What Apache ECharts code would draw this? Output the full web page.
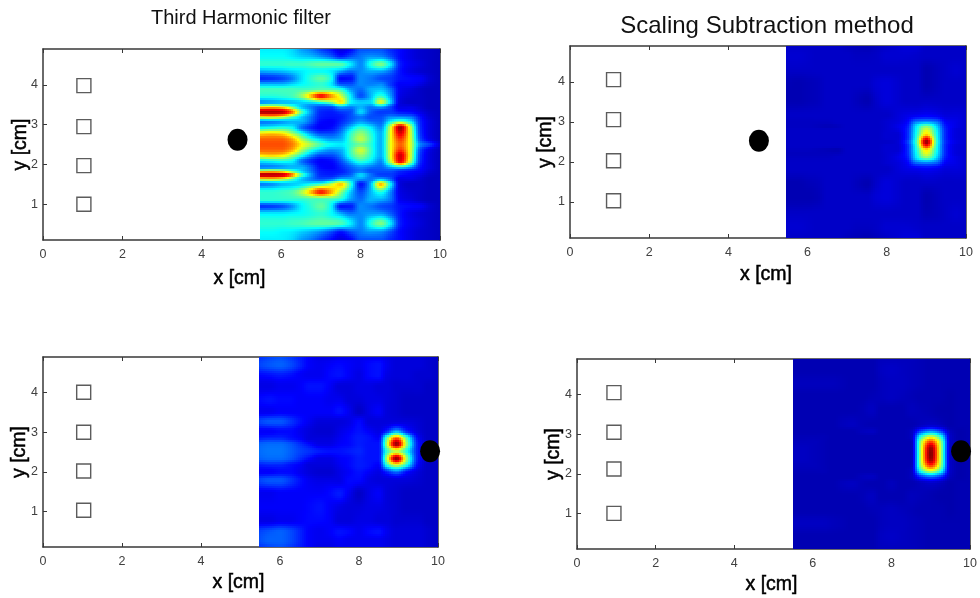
<!DOCTYPE html>
<html><head><meta charset="utf-8">
<style>html,body{margin:0;padding:0;background:#fff}#c{width:980px;height:598px}</style>
<script src="https://cdn.jsdelivr.net/npm/echarts@6/dist/echarts.min.js"></script>
</head><body><div id="c"></div>
<script>
const titles = ["Third Harmonic filter", "Scaling Subtraction method"];
const xLabel = "x [cm]", yLabel = "y [cm]";
const yTicks = [1, 2, 3, 4];
const p1Cols = [5.47,5.75,6,6.25,6.5,6.75,7,7.25,7.5,7.75,8,8.25,8.5,8.75,9,9.25,9.5,9.75,10];
const p2Cols = [5.45,5.75,6,6.25,6.5,6.75,7,7.25,7.5,7.75,8,8.25,8.5,8.75,9,9.25,9.5,9.75,10];
const p3Cols = [5.47,5.75,6,6.25,6.5,6.75,7,7.25,7.5,7.75,8,8.25,8.5,8.7,8.95,9.2,9.5,9.75,10];
const p4Cols = [5.5,5.75,6,6.25,6.5,6.75,7,7.25,7.5,7.75,8,8.25,8.5,8.75,9,9.25,9.5,9.75,10];

const p1Rows = [4.9,4.71,4.52,4.35,4.16,4.02,3.88,3.72,3.56,3.45,3.32,3.19,3.07,2.93,2.77,2.63,2.5,2.37,2.23,2.08,1.93,1.83,1.74,1.63,1.51,1.3,1.12,0.95,0.76,0.52,0.3,0.1];
const p1Values = [
[.36,.36,.36,.34,.28,.24,.18,.14,.09,.12,.2,.2,.2,.16,.13,.1,.08,.07,.06],
[.38,.38,.38,.36,.33,.31,.27,.22,.15,.2,.24,.27,.26,.2,.13,.1,.08,.07,.06],
[.42,.42,.42,.43,.43,.45,.47,.47,.46,.36,.26,.4,.5,.36,.15,.11,.09,.07,.06],
[.3,.31,.32,.34,.36,.38,.38,.36,.3,.24,.26,.3,.3,.24,.14,.1,.08,.07,.06],
[.16,.17,.19,.24,.34,.42,.47,.4,.13,.14,.26,.24,.2,.18,.14,.13,.12,.08,.06],
[.3,.3,.3,.33,.37,.4,.42,.36,.2,.2,.26,.25,.26,.18,.12,.12,.1,.07,.06],
[.44,.44,.44,.44,.44,.45,.46,.46,.42,.28,.23,.3,.32,.24,.11,.09,.07,.06,.06],
[.41,.41,.42,.44,.52,.7,.88,.74,.58,.36,.2,.3,.42,.28,.1,.08,.07,.06,.06],
[.26,.28,.3,.31,.33,.36,.42,.5,.66,.38,.33,.34,.6,.34,.09,.07,.07,.06,.06],
[.62,.64,.6,.48,.32,.25,.2,.2,.3,.26,.3,.25,.3,.2,.1,.1,.08,.06,.06],
[.96,.96,.95,.8,.48,.28,.16,.15,.18,.2,.34,.22,.18,.18,.14,.13,.1,.07,.06],
[.62,.64,.6,.48,.34,.24,.15,.14,.15,.2,.24,.2,.2,.26,.26,.24,.14,.08,.06],
[.24,.25,.27,.3,.3,.22,.13,.12,.16,.22,.28,.24,.22,.38,.5,.38,.16,.09,.06],
[.36,.38,.4,.38,.24,.16,.12,.13,.2,.32,.42,.36,.26,.58,.97,.58,.17,.09,.06],
[.66,.68,.66,.56,.42,.28,.2,.2,.26,.42,.52,.42,.3,.6,.9,.6,.18,.09,.06],
[.78,.78,.78,.72,.56,.42,.33,.28,.3,.44,.56,.44,.3,.6,.82,.6,.2,.1,.06],
[.8,.8,.8,.76,.64,.54,.44,.38,.36,.42,.48,.42,.3,.6,.78,.6,.26,.18,.08],
[.78,.78,.78,.72,.56,.42,.33,.28,.3,.44,.58,.44,.3,.6,.82,.6,.2,.1,.06],
[.66,.68,.66,.56,.42,.28,.2,.2,.26,.42,.52,.42,.3,.6,.92,.6,.18,.09,.06],
[.36,.38,.4,.38,.24,.16,.12,.13,.2,.32,.42,.36,.26,.56,.9,.56,.17,.09,.06],
[.24,.25,.27,.3,.3,.22,.13,.12,.16,.22,.27,.24,.22,.3,.36,.28,.14,.09,.06],
[.62,.64,.6,.48,.34,.24,.15,.14,.15,.2,.24,.2,.2,.2,.16,.14,.12,.08,.06],
[.96,.96,.95,.8,.48,.28,.16,.15,.18,.22,.34,.24,.18,.18,.14,.12,.1,.07,.06],
[.62,.64,.6,.48,.32,.25,.2,.22,.3,.3,.28,.24,.3,.22,.1,.1,.08,.06,.06],
[.24,.26,.3,.32,.34,.38,.42,.54,.68,.42,.14,.3,.7,.38,.09,.07,.07,.06,.06],
[.42,.42,.43,.45,.54,.7,.86,.72,.52,.32,.2,.3,.4,.26,.1,.08,.07,.06,.06],
[.42,.42,.42,.42,.42,.44,.44,.44,.4,.28,.23,.3,.3,.24,.11,.09,.07,.06,.06],
[.17,.18,.2,.26,.36,.42,.47,.38,.14,.15,.26,.24,.2,.18,.14,.13,.12,.08,.06],
[.36,.36,.36,.37,.38,.4,.42,.38,.3,.24,.26,.28,.28,.22,.14,.1,.08,.07,.06],
[.42,.42,.42,.43,.44,.46,.47,.47,.45,.36,.26,.4,.5,.36,.15,.11,.09,.07,.06],
[.38,.38,.37,.36,.33,.3,.26,.2,.14,.2,.24,.27,.26,.2,.13,.1,.08,.07,.06],
[.36,.36,.36,.34,.28,.24,.18,.13,.09,.12,.2,.2,.2,.16,.13,.1,.08,.07,.06]
];

const p2Rows = [4.9,4.67,4.3,3.96,3.55,3.17,3.0,2.89,2.79,2.69,2.6,2.5,2.4,2.31,2.21,2.11,2.0,1.83,1.45,1.12,0.7,0.37,0.1];
const p2Values = [
[.07,.07,.07,.07,.07,.07,.06,.055,.05,.06,.07,.08,.09,.09,.07,.07,.07,.07,.07],
[.08,.08,.075,.07,.07,.07,.07,.065,.065,.07,.08,.08,.08,.075,.07,.07,.07,.07,.07],
[.07,.07,.07,.07,.07,.07,.07,.07,.07,.07,.07,.07,.07,.07,.05,.06,.07,.08,.07],
[.055,.05,.055,.06,.07,.07,.07,.07,.07,.085,.09,.08,.07,.07,.05,.06,.07,.07,.07],
[.05,.05,.055,.06,.07,.07,.07,.06,.05,.075,.09,.08,.07,.07,.07,.07,.07,.07,.07],
[.07,.07,.07,.07,.07,.07,.07,.07,.07,.07,.07,.085,.1,.11,.12,.11,.09,.09,.08],
[.065,.065,.065,.065,.065,.07,.07,.07,.07,.07,.08,.09,.12,.25,.28,.24,.12,.1,.08],
[.065,.065,.065,.06,.055,.06,.07,.07,.07,.07,.08,.1,.14,.36,.5,.34,.14,.1,.08],
[.07,.07,.07,.07,.07,.07,.07,.07,.07,.07,.08,.09,.15,.38,.6,.38,.15,.09,.08],
[.07,.07,.07,.07,.07,.07,.07,.07,.07,.07,.08,.08,.15,.4,.66,.4,.15,.09,.08],
[.07,.07,.07,.07,.07,.07,.07,.07,.07,.07,.08,.08,.15,.42,.85,.42,.15,.09,.08],
[.07,.07,.07,.07,.07,.07,.07,.07,.07,.07,.07,.08,.17,.45,.98,.44,.16,.1,.08],
[.07,.07,.07,.07,.07,.07,.07,.07,.07,.07,.08,.08,.15,.42,.85,.42,.15,.09,.08],
[.065,.065,.065,.06,.055,.05,.07,.07,.07,.07,.08,.08,.15,.4,.66,.4,.15,.09,.08],
[.06,.06,.06,.06,.06,.06,.07,.07,.07,.07,.08,.09,.15,.38,.6,.38,.15,.09,.08],
[.065,.065,.065,.065,.065,.07,.07,.07,.07,.07,.08,.1,.14,.36,.5,.34,.14,.1,.08],
[.07,.07,.07,.07,.07,.07,.07,.07,.07,.07,.08,.09,.12,.25,.28,.24,.12,.1,.08],
[.07,.07,.07,.07,.07,.07,.07,.07,.07,.07,.07,.085,.1,.11,.12,.11,.09,.09,.08],
[.05,.05,.055,.06,.07,.07,.07,.06,.05,.075,.09,.08,.07,.07,.07,.07,.07,.07,.07],
[.05,.05,.05,.055,.07,.07,.07,.07,.07,.085,.09,.08,.07,.07,.05,.06,.07,.07,.07],
[.07,.07,.07,.07,.07,.07,.07,.07,.07,.07,.07,.07,.07,.07,.055,.06,.07,.08,.07],
[.08,.08,.075,.07,.07,.07,.07,.065,.065,.07,.08,.08,.08,.075,.07,.07,.07,.07,.07],
[.07,.07,.07,.07,.07,.07,.06,.055,.05,.06,.07,.08,.09,.09,.07,.07,.07,.07,.07]
];

const p3Rows = [4.9,4.7,4.45,4.16,3.82,3.52,3.27,3.02,2.85,2.7,2.52,2.34,2.17,2.0,1.79,1.45,1.11,0.77,0.48,0.27,0.1];
const p3Values = [
[.17,.19,.2,.18,.15,.12,.1,.1,.11,.11,.11,.11,.11,.1,.09,.09,.09,.08,.07],
[.19,.21,.22,.2,.16,.12,.11,.12,.13,.12,.11,.13,.14,.11,.09,.09,.09,.08,.07],
[.13,.14,.15,.14,.12,.11,.11,.13,.14,.12,.1,.13,.14,.1,.09,.09,.08,.08,.07],
[.1,.1,.11,.11,.12,.14,.14,.12,.09,.09,.1,.1,.09,.09,.08,.08,.08,.07,.07],
[.13,.14,.13,.13,.12,.12,.12,.11,.11,.09,.09,.1,.1,.09,.08,.07,.07,.07,.07],
[.11,.11,.12,.12,.12,.12,.12,.12,.14,.11,.07,.1,.12,.09,.08,.07,.07,.07,.07],
[.19,.21,.21,.18,.14,.11,.09,.09,.09,.1,.13,.09,.09,.09,.09,.09,.08,.07,.07],
[.12,.12,.13,.13,.11,.09,.08,.08,.1,.12,.14,.12,.1,.16,.3,.16,.09,.07,.07],
[.15,.16,.16,.14,.12,.09,.09,.09,.11,.13,.15,.14,.12,.46,.78,.46,.12,.07,.07],
[.22,.23,.23,.21,.17,.13,.1,.1,.12,.13,.15,.14,.14,.54,.98,.54,.14,.07,.07],
[.23,.24,.24,.22,.19,.17,.15,.14,.14,.15,.16,.14,.14,.42,.56,.4,.14,.08,.07],
[.22,.23,.23,.21,.17,.13,.1,.1,.12,.13,.15,.14,.14,.54,.98,.54,.14,.07,.07],
[.15,.16,.16,.14,.12,.09,.09,.09,.11,.13,.15,.14,.12,.4,.58,.4,.12,.07,.07],
[.12,.12,.13,.13,.11,.09,.08,.08,.1,.12,.14,.12,.1,.16,.24,.14,.09,.07,.07],
[.19,.21,.21,.18,.14,.11,.1,.1,.1,.13,.13,.1,.09,.09,.09,.09,.08,.07,.07],
[.11,.11,.12,.12,.12,.12,.12,.13,.15,.11,.07,.1,.12,.09,.08,.07,.07,.07,.07],
[.12,.12,.12,.12,.12,.13,.14,.12,.1,.09,.09,.1,.1,.09,.08,.07,.07,.07,.07],
[.1,.1,.11,.11,.12,.13,.13,.12,.09,.09,.1,.1,.09,.09,.08,.08,.08,.07,.07],
[.19,.21,.22,.2,.16,.12,.11,.12,.14,.13,.11,.13,.14,.11,.09,.09,.09,.08,.07],
[.2,.22,.22,.2,.16,.12,.11,.11,.12,.11,.11,.11,.11,.1,.09,.09,.09,.08,.07],
[.17,.19,.2,.18,.15,.12,.1,.1,.11,.11,.11,.11,.11,.1,.09,.09,.09,.08,.07]
];

const p4Rows = [4.9,4.63,4.29,3.95,3.62,3.24,3.07,2.93,2.78,2.64,2.5,2.37,2.23,2.08,1.93,1.76,1.42,1.08,0.75,0.41,0.1];
const p4Values = [
[.05,.05,.05,.05,.05,.05,.05,.05,.05,.06,.06,.06,.06,.055,.05,.05,.05,.05,.05],
[.05,.05,.05,.05,.05,.05,.05,.05,.05,.065,.07,.065,.06,.055,.05,.05,.05,.05,.05],
[.06,.06,.06,.06,.06,.055,.05,.05,.05,.06,.065,.065,.06,.055,.05,.05,.05,.05,.05],
[.05,.05,.05,.05,.05,.05,.05,.05,.055,.06,.065,.06,.055,.05,.05,.05,.045,.05,.05],
[.05,.05,.05,.05,.05,.05,.05,.055,.065,.05,.05,.05,.06,.055,.05,.045,.045,.05,.05],
[.05,.05,.05,.05,.05,.06,.065,.055,.05,.05,.05,.05,.05,.06,.07,.06,.045,.05,.05],
[.05,.05,.05,.05,.05,.05,.05,.06,.065,.05,.05,.05,.06,.2,.28,.2,.06,.045,.05],
[.055,.055,.055,.055,.05,.05,.05,.05,.05,.05,.05,.05,.06,.42,.6,.42,.07,.045,.05],
[.06,.06,.06,.055,.05,.05,.05,.05,.05,.05,.05,.05,.05,.54,.85,.54,.07,.045,.05],
[.065,.065,.06,.055,.05,.05,.05,.05,.05,.05,.05,.05,.05,.56,.98,.56,.07,.045,.05],
[.065,.065,.06,.055,.05,.05,.05,.05,.05,.05,.05,.05,.05,.56,1,.56,.07,.045,.05],
[.065,.065,.06,.055,.05,.05,.05,.05,.05,.05,.05,.05,.05,.56,.98,.56,.07,.045,.05],
[.06,.06,.06,.055,.05,.05,.05,.05,.05,.05,.05,.05,.05,.54,.85,.54,.07,.045,.05],
[.055,.055,.055,.055,.05,.05,.05,.05,.05,.05,.05,.05,.06,.42,.6,.42,.07,.045,.05],
[.05,.05,.05,.05,.05,.05,.05,.06,.065,.05,.05,.05,.06,.18,.24,.18,.06,.045,.05],
[.05,.05,.05,.05,.05,.06,.065,.055,.05,.05,.06,.05,.05,.06,.07,.06,.045,.05,.05],
[.05,.05,.05,.05,.05,.05,.05,.055,.065,.05,.05,.05,.06,.055,.05,.045,.045,.05,.05],
[.05,.05,.05,.05,.05,.05,.05,.05,.055,.06,.065,.06,.055,.05,.05,.05,.045,.05,.05],
[.065,.065,.065,.065,.06,.055,.05,.05,.05,.06,.065,.065,.06,.055,.05,.05,.05,.05,.05],
[.05,.05,.05,.05,.05,.05,.05,.05,.05,.065,.07,.065,.06,.055,.05,.05,.05,.05,.05],
[.05,.05,.05,.05,.05,.05,.05,.05,.05,.06,.06,.06,.06,.055,.05,.05,.05,.05,.05]
];

const p1Squares = [[1.03,3.98],[1.03,2.95],[1.03,1.97],[1.03,1.0]];
const p2Squares = [[1.1,4.06],[1.1,3.06],[1.1,2.03],[1.1,1.03]];
const p3Squares = [[1.03,4.01],[1.03,3.0],[1.03,2.02],[1.03,1.03]];
const p4Squares = [[0.94,4.05],[0.94,3.05],[0.94,2.12],[0.94,1.0]];
const p1Dot = [[4.9,2.62]], p2Dot = [[4.77,2.53]], p3Dot = [[9.8,2.52]], p4Dot = [[9.77,2.57]];

const panels = [
 {box:[43,49,397,191], cols:p1Cols, rows:p1Rows, vals:p1Values, sq:p1Squares, dot:p1Dot, xGap:29, yGap:12},
 {box:[570,46,396,192], cols:p2Cols, rows:p2Rows, vals:p2Values, sq:p2Squares, dot:p2Dot, xGap:27, yGap:14},
 {box:[43,357,395,190], cols:p3Cols, rows:p3Rows, vals:p3Values, sq:p3Squares, dot:p3Dot, xGap:26, yGap:13},
 {box:[577,359,394,190], cols:p4Cols, rows:p4Rows, vals:p4Values, sq:p4Squares, dot:p4Dot, xGap:26, yGap:13}
];

function jet(v){
  const c = a => Math.round(255*Math.max(0,Math.min(1,1.5-Math.abs(4*v-a))));
  return 'rgb('+c(3)+','+c(2)+','+c(1)+')';
}
function herm(xs,vs,i,t){
  const n=xs.length, h=xs[i+1]-xs[i];
  const s=k=>{
    if(k===0) return (vs[1]-vs[0])/(xs[1]-xs[0]);
    if(k===n-1) return (vs[n-1]-vs[n-2])/(xs[n-1]-xs[n-2]);
    const h0=xs[k]-xs[k-1], h1=xs[k+1]-xs[k], d0=(vs[k]-vs[k-1])/h0, d1=(vs[k+1]-vs[k])/h1;
    if(d0*d1<=0) return 0;
    const w1=2*h1+h0, w2=h1+2*h0;
    return (w1+w2)/(w1/d0+w2/d1);
  };
  const t2=t*t, t3=t2*t;
  return (2*t3-3*t2+1)*vs[i]+(t3-2*t2+t)*h*s(i)+(-2*t3+3*t2)*vs[i+1]+(t3-t2)*h*s(i+1);
}
function shade(P,cx,cy,tx,ty){
  const col=[];
  for(let k=0;k<P.cols.length;k++){
    if(k<cx-1||k>cx+2){col.push(0);continue;}
    col.push(herm(P.rows,P.vals.map(r=>r[k]),cy,ty));
  }
  const a=Math.max(cx-1,0), b=Math.min(cx+2,P.cols.length-1);
  const v=herm(P.cols.slice(a,b+1),col.slice(a,b+1),cx-a,tx);
  return Math.max(0,Math.min(1,v));
}
const grid=[],xAxis=[],yAxis=[],series=[];
const font='"Liberation Sans",Arial,sans-serif';
const lineCol='#383838', tickTxt='#404040';
const nameStyle={fontFamily:font,fontSize:19.5,color:'#000',textBorderColor:'#000',textBorderWidth:0.5};
panels.forEach((P,idx)=>{
  const [l,t,w,h]=P.box;
  grid.push({left:l,top:t,width:w,height:h,show:false});
  const ax={axisLine:{show:true,onZero:false,lineStyle:{color:lineCol,width:1.5}},splitLine:{show:false}};
  const xa={type:'value',gridIndex:idx,min:0,max:10,interval:2,...ax};
  xAxis.push({...xa,position:'bottom',name:xLabel,nameLocation:'middle',nameGap:P.xGap,
    nameTextStyle:{...nameStyle,padding:[0,4,0,0]},
    axisTick:{inside:true,length:4,lineStyle:{color:lineCol}},
    axisLabel:{fontFamily:font,fontSize:12.5,color:tickTxt,margin:8,showMinLabel:true,showMaxLabel:true}});
  xAxis.push({...xa,position:'top',axisTick:{inside:true,length:4,lineStyle:{color:lineCol}},axisLabel:{show:false}});
  const ya={type:'value',gridIndex:idx,min:0.1,max:4.9,...ax};
  yAxis.push({...ya,position:'left',name:yLabel,nameLocation:'middle',nameGap:P.yGap,nameMoveOverlap:false,
    nameTextStyle:nameStyle,
    axisTick:{inside:true,length:4,customValues:yTicks,lineStyle:{color:lineCol}},
    axisLabel:{fontFamily:font,fontSize:12.5,color:tickTxt,margin:5,customValues:yTicks}});
  yAxis.push({...ya,position:'right',axisTick:{inside:true,length:4,customValues:yTicks,lineStyle:{color:lineCol}},axisLabel:{show:false}});
  const xi=idx*2, yi=idx*2;
  const cells=[];
  for(let j=0;j<P.rows.length-1;j++) for(let i=0;i<P.cols.length-1;i++) cells.push([P.cols[i],P.rows[j],i,j]);
  series.push({type:'custom',xAxisIndex:xi,yAxisIndex:yi,z:1,silent:true,animation:false,progressive:0,
    clip:true,data:cells,
    encode:{x:0,y:1},
    renderItem:(params,api)=>{
      const i=api.value(2), j=api.value(3);
      const a=api.coord([P.cols[i],P.rows[j]]), b=api.coord([P.cols[i+1],P.rows[j+1]]);
      const x0=Math.round(a[0]), x1=Math.round(b[0]), y0=Math.round(a[1]), y1=Math.round(b[1]);
      const children=[];
      for(let py=y0;py<y1;py+=2) for(let px=x0;px<x1;px+=2){
        const pw=Math.min(2,x1-px), ph=Math.min(2,y1-py);
        const v=shade(P,i,j,(px+pw/2-a[0])/(b[0]-a[0]),(py+ph/2-a[1])/(b[1]-a[1]));
        children.push({type:'rect',shape:{x:px,y:py,width:pw,height:ph},style:{fill:jet(v)}});
      }
      return {type:'group',children};
    }});
  series.push({type:'scatter',xAxisIndex:xi,yAxisIndex:yi,z:3,silent:true,animation:false,data:P.sq,symbol:'rect',symbolSize:14,
    itemStyle:{color:'rgba(255,255,255,0)',borderColor:'#333',borderWidth:1.4}});
  series.push({type:'scatter',xAxisIndex:xi,yAxisIndex:yi,z:4,silent:true,animation:false,data:P.dot,symbol:'circle',symbolSize:[20,22],
    itemStyle:{color:'#000',opacity:1}});
});
const chart=echarts.init(document.getElementById('c'),null,{renderer:'canvas'});
chart.setOption({
  animation:false,backgroundColor:'#fff',
  title:[
    {text:titles[0],left:236,top:3,textAlign:'center',textStyle:{fontFamily:font,fontSize:20,fontWeight:'normal',color:'#111'}},
    {text:titles[1],left:762,top:9,textAlign:'center',textStyle:{fontFamily:font,fontSize:24,fontWeight:'normal',color:'#111'}}
  ],
  grid,xAxis,yAxis,series
});
</script></body></html>
